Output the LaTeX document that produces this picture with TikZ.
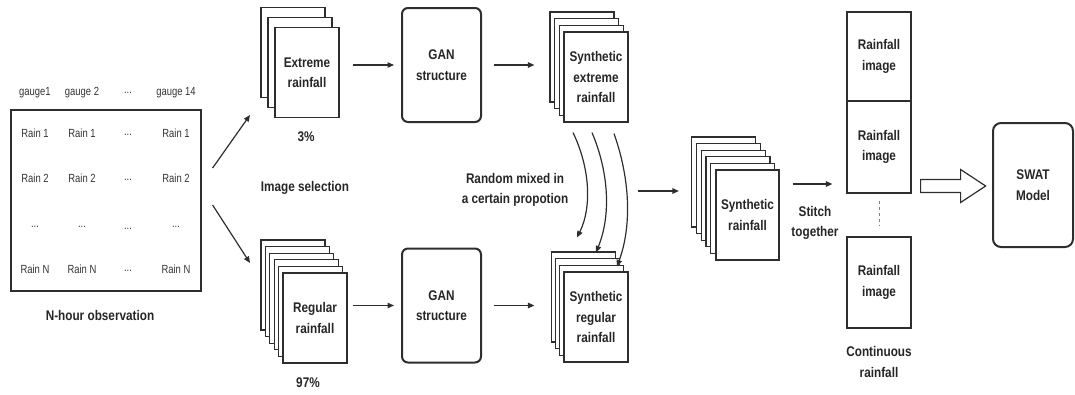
\documentclass[tikz,border=0pt]{standalone}
\usepackage{fontspec}
\setmainfont{Liberation Sans}[FakeStretch=0.84]
\newfontfamily\cellfam{Liberation Sans}[FakeStretch=0.8]
\usetikzlibrary{arrows.meta,calc}

\newcommand\lblfont{\fontsize{14}{20.5}\selectfont\bfseries}
\newcommand\cellfont{\cellfam\fontsize{11.8}{13}\selectfont}
\newcommand\celldots{...}

\begin{document}
\begin{tikzpicture}[x=1pt,y=-1pt,
  line/.style={draw=black!82},
  sheet/.style={line, fill=white, line width=1.2pt, minimum width=64pt,
    minimum height=90pt, inner sep=0pt, align=center, font=\lblfont, text=black!85},
  ganbox/.style={line, line width=2pt, rounded corners=6pt, minimum width=79pt,
    minimum height=114pt, align=center, font=\lblfont, text=black!85},
  imgbox/.style={line, line width=1.2pt, minimum width=64pt, align=center,
    font=\lblfont, text=black!85, inner sep=0pt},
  lbl/.style={align=center, font=\lblfont, text=black!85},
  cell/.style={font=\cellfont, text=black!80},
  arr/.style={line, line width=1.2pt, -{Triangle[length=6.5pt,width=5.5pt]}},
]
\useasboundingbox (0,0) rectangle (1075,394);

% ---------- observation table ----------
\node[line, line width=1.2pt, minimum width=190pt, minimum height=181pt, inner sep=0pt]
  (tab) at (106,200.5) {};
\foreach \x/\t [count=\c] in {35/gauge1, 82/gauge 2, 128/\celldots, 176/gauge 14}
  \node[cell] (h\c) at (\x,93) {\t};
\foreach \y/\r [count=\k] in {133/1, 178/2, 227/x, 269/N}{
  \foreach \x [count=\c] in {35,82,176}{
    \ifnum\k=3
      \node[cell] (r\k c\c) at (\x,\y) {\celldots};
    \else
      \node[cell] (r\k c\c) at (\x,\y) {Rain \r};
    \fi
  }
  \node[cell] (r\k dots) at (128,\y+2) {\celldots};
}
\node[lbl] (obs) at (100,315) {N-hour observation};

% ---------- extreme rainfall stack ----------
\coordinate (extc) at (307,72.5);
\foreach \i in {2,1}
  \node[sheet] (ext\i) at ($(extc)+(-7*\i,-10*\i)$) {};
\node[sheet] (ext) at (extc) {Extreme\\rainfall};
\node[lbl] (p3) at (306,137) {3\%};
\node[lbl] (sel) at (305,188) {Image selection};

% ---------- regular rainfall stack ----------
\coordinate (regc) at (315,318);
\foreach \i in {5,4,3,2,1}
  \node[sheet] (reg\i) at ($(regc)+(-4.4*\i,-6.6*\i)$) {};
\node[sheet] (reg) at (regc) {Regular\\rainfall};
\node[lbl] (p97) at (308,383) {97\%};

% ---------- table to both stacks ----------
\coordinate (selA) at (250,115);
\coordinate (selB) at (250,263);
\draw[arr] ($(tab.east)+(11,-32.5)$) -- (selA);
\draw[arr] ($(tab.east)+(11,4.5)$) -- (selB);

% ---------- GAN blocks ----------
\node[ganbox] (gan1) at (441.5,65) {GAN\\structure};
\node[ganbox] (gan2) at (441.5,305.5) {GAN\\structure};

% ---------- synthetic extreme stack ----------
\coordinate (sxtc) at (596,77);
\foreach \i in {3,2,1}
  \node[sheet] (sxt\i) at ($(sxtc)+(-4.7*\i,-6.7*\i)$) {};
\node[sheet] (sxt) at (sxtc) {Synthetic\\extreme\\rainfall};

% ---------- synthetic regular stack ----------
\coordinate (sregc) at (596,317);
\foreach \i in {3,2,1}
  \node[sheet] (sreg\i) at ($(sregc)+(-4.3*\i,-6.7*\i)$) {};
\node[sheet] (sreg) at (sregc) {Synthetic\\regular\\rainfall};

% ---------- straight arrows through the GANs ----------
\draw[arr, shorten <=13pt, shorten >=7pt] (ext.east |- gan1.west) -- (gan1.west);
\draw[arr, shorten <=12pt, shorten >=29pt] (gan1.east) -- (sxt.west |- gan1.east);
\draw[arr, shorten <=5pt, shorten >=7pt] (reg.east |- gan2.west) -- (gan2.west);
\draw[arr, shorten <=12pt, shorten >=29pt] (gan2.east) -- (sreg.west |- gan2.east);

% ---------- random mixing ----------
\draw[arr] ($(sxt.south)+(-23,10)$) .. controls ($(sxt.south)+(-6,45)$) and ($(sxt.south)+(-4,85)$) .. ($(sreg.north)+(-19,-34)$);
\draw[arr] ($(sxt.south)+(-4,10)$) .. controls ($(sxt.south)+(13,50)$) and ($(sxt.south)+(15,93)$) .. ($(sreg.north)+(0,-19)$);
\draw[arr] ($(sxt.south)+(18,11)$) .. controls ($(sxt.south)+(34,56)$) and ($(sxt.south)+(36,103)$) .. ($(sreg.north)+(21,-5)$);
\node[lbl] (mixlbl) at (515,190) {Random mixed in\\a certain propotion};

% ---------- synthetic rainfall stack ----------
\coordinate (srainc) at (747.5,215);
\foreach \i in {5,4,3,2,1}
  \node[sheet] (srain\i) at ($(srainc)+(-4.8*\i,-6.6*\i)$) {};
\node[sheet, minimum width=63pt] (srain) at (srainc) {Synthetic\\rainfall};

\coordinate (mix) at (638,191);
\draw[arr, shorten >=12pt] (mix) -- (mix -| srain5.west);

% ---------- stitched rainfall images ----------
\node[imgbox, minimum height=89pt] (img1) at (879,56.5) {Rainfall\\image};
\node[imgbox, minimum height=92pt] (img2) at (879,147) {Rainfall\\image};
\node[imgbox, minimum height=91pt] (img3) at (879,282.5) {Rainfall\\image};
\draw[line, gray, dashed, line width=0.7pt, shorten <=7pt, shorten >=10pt] (img2.south) -- (img3.north);
\node[lbl] (cont) at (879,362) {Continuous\\rainfall};

\draw[arr] ($(srain.east)+(13,-31)$) -- ($(img2.west)+(-14,37)$);
\node[lbl] (stitch) at (815,223) {Stitch\\together};

% ---------- SWAT model ----------
\node[ganbox, rounded corners=8pt, minimum width=80pt, minimum height=124pt] (swat) at (1033,185) {SWAT\\Model};

\coordinate (ha) at ($(img2.east)+(9,39)$);
\draw[line, line width=1.2pt, fill=white, line join=miter]
  ($(ha)+(0,-6.5)$) -- ++(40,0) -- ++(0,-10) -- ++(25,16.5) -- ++(-25,16.5)
  -- ++(0,-10) -- ++(-40,0) -- cycle;
\end{tikzpicture}
\end{document}
